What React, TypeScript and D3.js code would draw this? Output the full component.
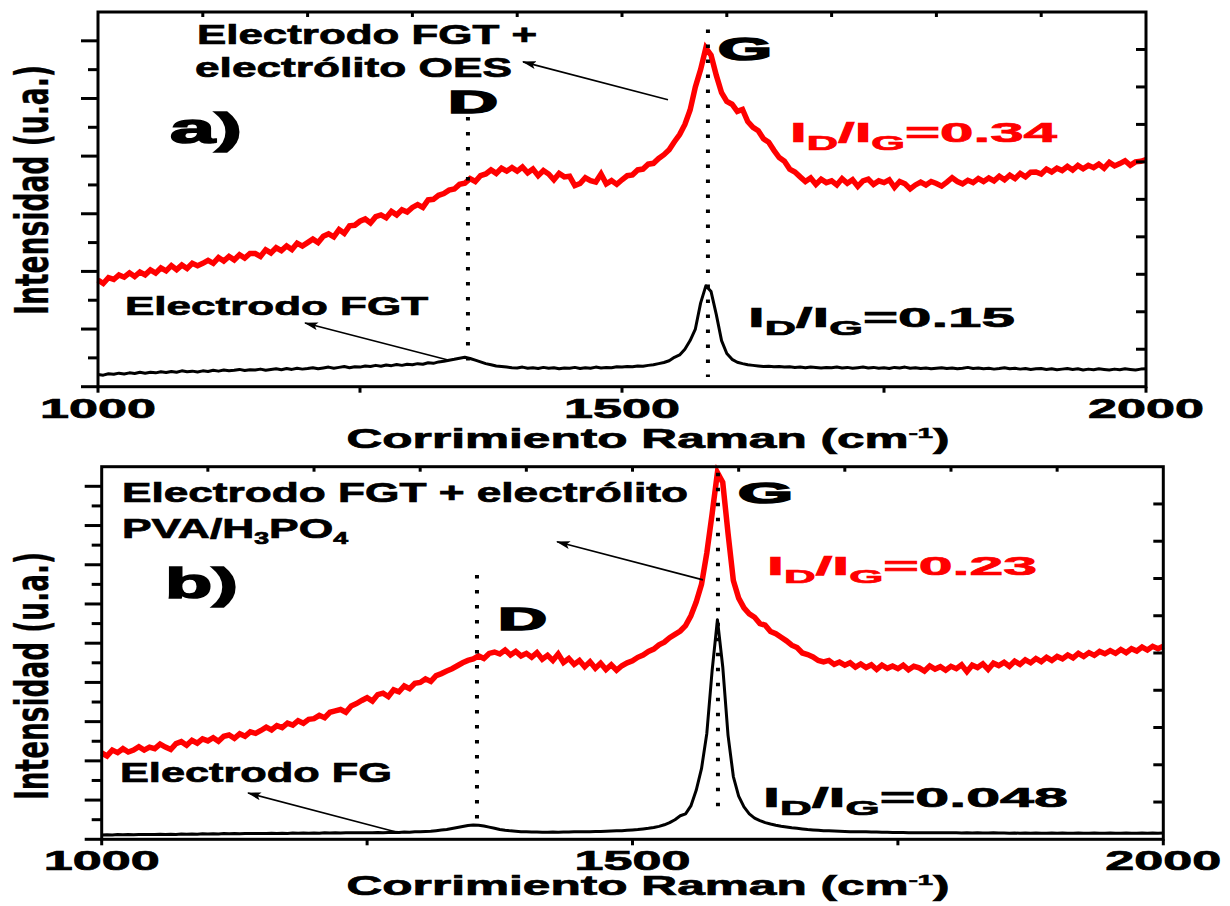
import React from "react";
import * as d3 from "d3";

// ---------- data (Raman spectra, 5 cm-1 grid from 1000 to 2000) ----------
const WN_START = 1000;
const WN_STEP = 5;

// panel a) Electrodo FGT + electrólito OES (red)
const spectrumA_red = [
  3.70, 3.58, 3.78, 3.72, 3.88, 3.80, 3.95, 3.82, 3.98, 3.88,
  4.05, 3.94, 4.12, 4.02, 4.20, 4.06, 4.22, 4.10, 4.28, 4.20,
  4.28, 4.38, 4.28, 4.48, 4.36, 4.52, 4.40, 4.58, 4.46, 4.62,
  4.62, 4.52, 4.75, 4.64, 4.82, 4.72, 4.88, 4.76, 4.98, 4.88,
  5.00, 5.12, 5.00, 5.22, 5.30, 5.20, 5.45, 5.32, 5.58, 5.60,
  5.74, 5.82, 5.68, 5.90, 5.96, 5.86, 6.08, 5.96, 6.14, 6.06,
  6.22, 6.32, 6.22, 6.48, 6.50, 6.64, 6.70, 6.82, 6.86, 7.02,
  7.06, 7.22, 7.12, 7.32, 7.38, 7.52, 7.40, 7.58, 7.48, 7.60,
  7.48, 7.62, 7.42, 7.55, 7.32, 7.50, 7.38, 7.18, 7.40, 7.28,
  7.30, 6.98, 7.05, 7.25, 7.15, 7.10, 7.38, 7.04, 7.15, 7.02,
  7.18, 7.32, 7.35, 7.52, 7.55, 7.72, 7.75, 7.92, 8.05, 8.22,
  8.50, 8.75, 9.10, 9.60, 10.40, 11.00, 11.75, 11.50, 10.80, 10.20,
  9.90, 9.80, 9.55, 9.62, 9.20, 9.00, 8.88, 8.60, 8.48, 8.20,
  7.95, 7.82, 7.55, 7.45, 7.28, 7.12, 7.24, 7.02, 7.20, 7.08,
  7.14, 7.00, 7.22, 7.06, 7.18, 6.95, 7.14, 7.20, 7.02, 7.14,
  7.08, 7.18, 6.92, 7.12, 7.04, 6.86, 7.00, 7.10, 7.00, 7.12,
  7.05, 6.96, 7.10, 7.25, 7.12, 7.04, 7.16, 7.08, 7.22, 7.12,
  7.24, 7.14, 7.30, 7.18, 7.34, 7.22, 7.40, 7.28, 7.44, 7.45,
  7.38, 7.55, 7.45, 7.58, 7.50, 7.64, 7.52, 7.68, 7.56, 7.68,
  7.60, 7.72, 7.58, 7.78, 7.66, 7.74, 7.84, 7.68, 7.80, 7.82,
  7.88,
];

// panel a) Electrodo FGT (black)
const spectrumA_black = [
  0.42, 0.40, 0.45, 0.43, 0.47, 0.44, 0.48, 0.46, 0.50, 0.47,
  0.50, 0.48, 0.52, 0.49, 0.53, 0.50, 0.55, 0.52, 0.54, 0.51,
  0.55, 0.53, 0.57, 0.54, 0.58, 0.55, 0.57, 0.60, 0.56, 0.59,
  0.58, 0.61, 0.57, 0.60, 0.62, 0.59, 0.63, 0.60, 0.64, 0.61,
  0.63, 0.66, 0.62, 0.65, 0.68, 0.64, 0.67, 0.70, 0.66, 0.69,
  0.68, 0.72, 0.70, 0.74, 0.71, 0.75, 0.73, 0.77, 0.74, 0.78,
  0.76, 0.80, 0.78, 0.83, 0.81, 0.86, 0.88, 0.92, 0.95, 0.99,
  1.02, 0.98, 0.92, 0.86, 0.80, 0.76, 0.72, 0.70, 0.68, 0.66,
  0.65, 0.68, 0.64, 0.66, 0.63, 0.67, 0.64, 0.66, 0.62, 0.65,
  0.64, 0.67, 0.63, 0.66, 0.64, 0.68, 0.65, 0.67, 0.66, 0.69,
  0.68, 0.70, 0.69, 0.72, 0.71, 0.74, 0.76, 0.80, 0.84, 0.90,
  1.02, 1.10, 1.30, 1.60, 2.00, 2.90, 3.50, 3.30, 2.50, 1.60,
  1.15, 0.95, 0.85, 0.80, 0.76, 0.74, 0.72, 0.70, 0.71, 0.69,
  0.70, 0.68, 0.69, 0.67, 0.68, 0.66, 0.68, 0.67, 0.65, 0.67,
  0.66, 0.68, 0.65, 0.67, 0.64, 0.66, 0.68, 0.65, 0.67, 0.64,
  0.66, 0.63, 0.67, 0.65, 0.68, 0.64, 0.66, 0.63, 0.65, 0.62,
  0.64, 0.66, 0.63, 0.65, 0.62, 0.64, 0.67, 0.63, 0.65, 0.62,
  0.64, 0.61, 0.63, 0.66, 0.62, 0.64, 0.61, 0.63, 0.60, 0.62,
  0.63, 0.60, 0.62, 0.59, 0.61, 0.63, 0.60, 0.62, 0.58, 0.61,
  0.59, 0.62, 0.60, 0.58, 0.61, 0.59, 0.62, 0.60, 0.58, 0.61,
  0.62,
];

// panel b) Electrodo FGT + electrólito PVA/H3PO4 (red)
const spectrumB_red = [
  4.40, 4.25, 4.55, 4.42, 4.62, 4.45, 4.55, 4.72, 4.55, 4.70,
  4.62, 4.85, 4.70, 4.58, 4.88, 4.98, 4.80, 5.05, 4.90, 5.12,
  5.02, 5.18, 5.00, 5.25, 5.32, 5.15, 5.38, 5.25, 5.48, 5.40,
  5.55, 5.72, 5.58, 5.80, 5.70, 5.92, 5.82, 6.05, 5.92, 6.12,
  6.15, 6.32, 6.20, 6.48, 6.55, 6.62, 6.48, 6.80, 6.92, 7.08,
  7.22, 7.05, 7.38, 7.45, 7.28, 7.62, 7.52, 7.82, 7.68, 7.95,
  8.00, 8.18, 8.05, 8.35, 8.45, 8.58, 8.70, 8.85, 9.00, 9.12,
  9.20, 9.35, 9.22, 9.48, 9.55, 9.45, 9.65, 9.40, 9.58, 9.35,
  9.48, 9.28, 9.52, 9.18, 9.38, 9.12, 9.45, 9.02, 9.22, 8.92,
  9.12, 8.80, 9.05, 8.72, 8.98, 8.66, 8.90, 8.62, 8.85, 9.00,
  9.10, 9.28, 9.40, 9.58, 9.70, 9.92, 10.05, 10.28, 10.45, 10.62,
  10.90, 11.40, 12.10, 13.00, 14.60, 16.60, 18.70, 18.20, 15.60, 13.20,
  12.30, 11.80, 11.50, 11.32, 11.00, 10.92, 10.60, 10.48, 10.30, 10.12,
  9.90, 9.78, 9.50, 9.42, 9.30, 9.12, 9.05, 9.12, 8.92, 9.04,
  8.88, 9.00, 8.78, 8.94, 8.76, 8.90, 8.66, 8.88, 8.72, 8.84,
  8.70, 8.88, 8.64, 8.82, 8.74, 8.58, 8.84, 8.68, 8.80, 8.62,
  8.82, 8.70, 8.90, 8.55, 8.88, 8.76, 8.95, 8.66, 8.98, 8.86,
  9.02, 8.82, 9.08, 8.92, 9.15, 9.00, 9.22, 9.06, 9.28, 9.12,
  9.32, 9.20, 9.40, 9.25, 9.48, 9.32, 9.52, 9.38, 9.58, 9.46,
  9.62, 9.48, 9.68, 9.52, 9.72, 9.60, 9.80, 9.65, 9.84, 9.72,
  9.85,
];

// panel b) Electrodo FG (black)
const spectrumB_black = [
  0.22, 0.23, 0.22, 0.24, 0.23, 0.24, 0.23, 0.25, 0.24, 0.25,
  0.24, 0.26, 0.25, 0.26, 0.25, 0.27, 0.26, 0.27, 0.26, 0.28,
  0.27, 0.28, 0.27, 0.29, 0.28, 0.29, 0.28, 0.30, 0.29, 0.30,
  0.29, 0.30, 0.31, 0.30, 0.31, 0.30, 0.32, 0.31, 0.32, 0.31,
  0.32, 0.31, 0.33, 0.32, 0.33, 0.32, 0.34, 0.33, 0.34, 0.33,
  0.34, 0.33, 0.35, 0.34, 0.35, 0.36, 0.35, 0.37, 0.36, 0.38,
  0.38, 0.40, 0.41, 0.44, 0.47, 0.50, 0.55, 0.60, 0.65, 0.70,
  0.73, 0.72, 0.68, 0.62, 0.56, 0.50, 0.46, 0.43, 0.41, 0.39,
  0.38, 0.37, 0.37, 0.36, 0.36, 0.37, 0.36, 0.37, 0.37, 0.38,
  0.38, 0.39, 0.39, 0.40, 0.40, 0.41, 0.42, 0.43, 0.44, 0.46,
  0.48, 0.50, 0.53, 0.56, 0.60, 0.66, 0.74, 0.85, 1.00, 1.20,
  1.30, 1.70, 2.50, 3.60, 5.40, 8.60, 11.20, 8.80, 5.30, 3.20,
  2.20, 1.65, 1.30, 1.08, 0.95, 0.85, 0.78, 0.72, 0.67, 0.63,
  0.59, 0.56, 0.53, 0.50, 0.48, 0.46, 0.44, 0.43, 0.42, 0.41,
  0.40, 0.39, 0.39, 0.38, 0.38, 0.37, 0.37, 0.36, 0.36, 0.35,
  0.35, 0.35, 0.34, 0.34, 0.34, 0.33, 0.34, 0.33, 0.33, 0.34,
  0.33, 0.33, 0.32, 0.33, 0.32, 0.33, 0.32, 0.32, 0.33, 0.32,
  0.32, 0.31, 0.32, 0.31, 0.32, 0.31, 0.32, 0.31, 0.31, 0.32,
  0.31, 0.32, 0.31, 0.31, 0.32, 0.31, 0.31, 0.32, 0.31, 0.31,
  0.32, 0.31, 0.31, 0.32, 0.31, 0.31, 0.32, 0.31, 0.32, 0.31,
  0.32,
];

// ---------- axes ----------
const xDomain = [1000, 2000];
const xTickValues = [1000, 1500, 2000];
const xTickLabels = ["1000", "1500", "2000"];
const xBottomMinor = [1250, 1750];
const xTopMinor = [1100, 1200, 1300, 1400, 1500, 1600, 1700, 1800, 1900];
const xTitle = "Corrimiento Raman (cm";
const xTitleSup = "-1";
const yTitle = "Intensidad (u.a.)";

// ---------- annotations (in data units) ----------
type Seg = { t: string; sub?: boolean; sup?: boolean };
const ratioParts = (v: string): Seg[] => [
  { t: "I" }, { t: "D", sub: true }, { t: "/I" }, { t: "G", sub: true }, { t: "=" + v },
];

const labelsA = [
  { segs: [{ t: "Electrodo FGT +" }], w: 1094.5, v: 11.9, width: 340, size: 27, color: "#000" },
  { segs: [{ t: "electrólito OES" }], w: 1092.6, v: 10.74, width: 317, size: 27, color: "#000" },
  { segs: [{ t: "a)" }], w: 1068.7, v: 8.46, width: 72, size: 42, color: "#000", heavy: true },
  { segs: [{ t: "D" }], w: 1334, v: 9.5, width: 50, size: 32, color: "#000", heavy: true },
  { segs: [{ t: "G" }], w: 1591.6, v: 11.34, width: 54, size: 31, color: "#000", heavy: true },
  { segs: ratioParts("0.34"), w: 1660.3, v: 8.5, width: 267, size: 27, color: "#ff0000" },
  { segs: [{ t: "Electrodo FGT" }], w: 1025.8, v: 2.49, width: 303, size: 26, color: "#000" },
  { segs: ratioParts("0.15"), w: 1620.2, v: 2.07, width: 267, size: 28, color: "#000" },
];
const labelsB = [
  { segs: [{ t: "Electrodo FGT + electrólito" }], w: 1019.1, v: 17.21, width: 566, size: 27, color: "#000" },
  { segs: [{ t: "PVA/H" }, { t: "3", sub: true }, { t: "PO" }, { t: "4", sub: true }], w: 1019.1, v: 15.37, width: 226, size: 27, color: "#000" },
  { segs: [{ t: "b)" }], w: 1059.6, v: 12.31, width: 73, size: 42, color: "#000", heavy: true },
  { segs: [{ t: "D" }], w: 1373.3, v: 10.68, width: 49, size: 31, color: "#000", heavy: true },
  { segs: [{ t: "G" }], w: 1599.4, v: 17.16, width: 55, size: 30, color: "#000", heavy: true },
  { segs: ratioParts("0.23"), w: 1626.7, v: 13.48, width: 270, size: 26, color: "#ff0000" },
  { segs: [{ t: "Electrodo FG" }], w: 1017.2, v: 2.92, width: 272, size: 27, color: "#000" },
  { segs: ratioParts("0.048"), w: 1622.9, v: 1.65, width: 305, size: 27, color: "#000" },
];

const arrowsA = [
  { from: [1543.9, 9.955], to: [1405.5, 11.27] },
  { from: [1334, 0.927], to: [1197.5, 2.21] },
];
const arrowsB = [
  { from: [1566.4, 13.23], to: [1428.9, 15.17] },
  { from: [1281, 0.32], to: [1137.8, 2.36] },
];

const dottedA = [
  { w: 1353, v0: 0.51, v1: 9.36 },
  { w: 1582, v0: 0.34, v1: 12.39 },
];
const dottedB = [
  { w: 1353.5, v0: 0.47, v1: 13.48 },
  { w: 1580.5, v0: 1.14, v1: 18.69 },
];

// ---------- layout ----------
const panels = [
  {
    id: "a", left: 98, right: 1146, top: 12, bottom: 386.7, yMax: 13, rightDiv: 10,
    red: spectrumA_red, black: spectrumA_black, blackWidth: 3,
    labels: labelsA, arrows: arrowsA, dotted: dottedA,
    xTitleX: 648, xTitleY: 448, yTitleY: 190, yTitleLen: 250,
  },
  {
    id: "b", left: 101.7, right: 1163.3, top: 466.7, bottom: 839.3, yMax: 19, rightDiv: 10,
    red: spectrumB_red, black: spectrumB_black, blackWidth: 3,
    labels: labelsB, arrows: arrowsB, dotted: dottedB,
    xTitleX: 648, xTitleY: 895, yTitleY: 676, yTitleLen: 248,
  },
];

const FONT = "'Liberation Sans', Arial, Helvetica, sans-serif";
const NARROW = "'Liberation Sans Narrow', 'DejaVu Sans Condensed', 'Liberation Sans', Arial, sans-serif";

function RichText({ x, y, size, width, fill, segs, heavy, anchor = "start", subScale = 0.72, subShift = 0.3 }: any) {
  let shift = 0;
  const kids = segs.map((s: Seg, i: number) => {
    const target = s.sub ? size * subShift : s.sup ? -size * 0.38 : 0;
    const dy = target - shift;
    shift = target;
    return (
      <tspan key={i} dy={dy} fontSize={s.sub || s.sup ? size * subScale : size}>
        {s.t}
      </tspan>
    );
  });
  return (
    <text
      x={x}
      y={y}
      fontSize={size}
      fontFamily={FONT}
      fontWeight="bold"
      fill={fill}
      stroke={fill}
      strokeWidth={heavy ? 1.6 : 0.7}
      textAnchor={anchor}
      textLength={width}
      lengthAdjust="spacingAndGlyphs"
    >
      {kids}
    </text>
  );
}

function Panel({ p }: any) {
  const x = d3.scaleLinear().domain(xDomain).range([p.left, p.right]);
  const y = d3.scaleLinear().domain([0, p.yMax]).range([p.bottom, p.top]);
  const line = d3
    .line<number>()
    .x((_, i) => x(WN_START + i * WN_STEP))
    .y((d) => y(d))
    .curve(d3.curveLinear);

  const leftTicks = d3.range(0, p.yMax);
  const rightTicks = d3.range(1, p.rightDiv).map((i) => (i * p.yMax) / p.rightDiv);

  return (
    <g>
      {/* spectra */}
      <path d={line(p.black) || ""} fill="none" stroke="#000" strokeWidth={p.blackWidth} strokeLinejoin="round" />
      <path d={line(p.red) || ""} fill="none" stroke="#ff0000" strokeWidth={5.5} strokeLinejoin="miter" />

      {/* dotted peak markers */}
      {p.dotted.map((d: any, i: number) => (
        <line
          key={"dot" + i}
          x1={x(d.w)}
          x2={x(d.w)}
          y1={y(d.v1)}
          y2={y(d.v0)}
          stroke="#000"
          strokeWidth={4}
          strokeDasharray="3.5 11.5"
        />
      ))}

      {/* arrows */}
      {p.arrows.map((a: any, i: number) => (
        <line
          key={"arr" + i}
          x1={x(a.from[0])}
          y1={y(a.from[1])}
          x2={x(a.to[0])}
          y2={y(a.to[1])}
          stroke="#000"
          strokeWidth={1.6}
          markerEnd="url(#arrowHead)"
        />
      ))}

      {/* frame */}
      <rect
        x={p.left}
        y={p.top}
        width={p.right - p.left}
        height={p.bottom - p.top}
        fill="none"
        stroke="#000"
        strokeWidth={3}
      />

      {/* left ticks (outward, major/minor alternating) */}
      {leftTicks.map((t: number) => (
        <line
          key={"l" + t}
          x1={p.left}
          x2={p.left - (t % 2 === 0 ? 17 : 10)}
          y1={y(t)}
          y2={y(t)}
          stroke="#000"
          strokeWidth={3}
        />
      ))}
      {/* right ticks (inward) */}
      {rightTicks.map((t: number, i: number) => (
        <line key={"r" + i} x1={p.right} x2={p.right - 10} y1={y(t)} y2={y(t)} stroke="#000" strokeWidth={3} />
      ))}
      {/* top ticks (inward) */}
      {xTopMinor.map((t) => (
        <line key={"t" + t} x1={x(t)} x2={x(t)} y1={p.top} y2={p.top + 5} stroke="#000" strokeWidth={3} />
      ))}
      {/* bottom ticks (outward) */}
      {[...xTickValues, ...xBottomMinor].map((t) => (
        <line key={"b" + t} x1={x(t)} x2={x(t)} y1={p.bottom} y2={p.bottom + 6} stroke="#000" strokeWidth={3} />
      ))}

      {/* tick labels */}
      {xTickValues.map((t, i) => (
        <RichText
          key={"tl" + t}
          x={x(t)}
          y={p.bottom + 31}
          size={27}
          width={116}
          fill="#000"
          anchor="middle"
          segs={[{ t: xTickLabels[i] }]}
        />
      ))}

      {/* x title */}
      <RichText
        x={p.xTitleX}
        y={p.xTitleY}
        size={27}
        width={603}
        fill="#000"
        anchor="middle"
        subScale={0.55}
        segs={[{ t: xTitle }, { t: xTitleSup, sup: true }, { t: ")" }]}
      />

      {/* y title */}
      <text
        transform={`translate(48,${p.yTitleY}) rotate(-90)`}
        fontFamily={NARROW}
        fontSize={47}
        fontWeight="bold"
        fill="#000"
        stroke="#000"
        strokeWidth={0.3}
        textAnchor="middle"
        textLength={p.yTitleLen}
        lengthAdjust="spacingAndGlyphs"
      >
        {yTitle}
      </text>

      {/* annotation labels */}
      {p.labels.map((l: any, i: number) => (
        <RichText
          key={"lab" + i}
          x={x(l.w)}
          y={y(l.v)}
          size={l.size}
          width={l.width}
          fill={l.color}
          heavy={l.heavy}
          segs={l.segs}
          subScale={l.segs.length === 4 ? 0.6 : 0.72}
          subShift={l.segs.length === 4 ? 0.22 : 0.3}
        />
      ))}
    </g>
  );
}

export default function App() {
  return (
    <div style={{ position: "absolute", left: 0, top: 0 }}>
      <svg width={1230} height={906} viewBox="0 0 1230 906" style={{ display: "block", background: "#fff" }}>
        <defs>
          <marker
            id="arrowHead"
            viewBox="0 0 14 8"
            refX={13}
            refY={4}
            markerWidth={14}
            markerHeight={8}
            markerUnits="userSpaceOnUse"
            orient="auto"
          >
            <path d="M0,0 L14,4 L0,8 L3,4 Z" fill="#000" />
          </marker>
        </defs>
        <rect width={1230} height={906} fill="#fff" />
        {panels.map((p) => (
          <Panel key={p.id} p={p} />
        ))}
      </svg>
    </div>
  );
}
